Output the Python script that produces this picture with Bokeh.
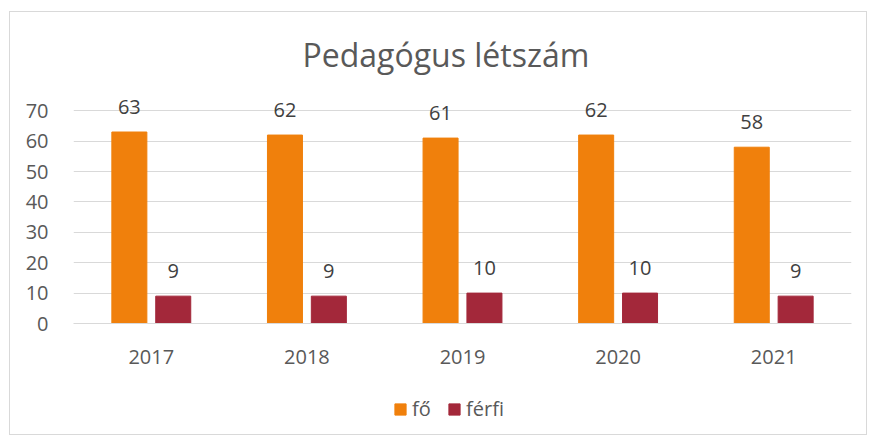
from bokeh.plotting import figure
from bokeh.models import (ColumnDataSource, FactorRange, Range1d, Legend, LegendItem,
                          LabelSet, Title)
from bokeh.layouts import column
from bokeh.core.properties import value
from bokeh.transform import dodge
from bokeh.embed import file_html
from bokeh.resources import INLINE

years = ["2017", "2018", "2019", "2020", "2021"]
fo = [63, 62, 61, 62, 58]
ferfi = [9, 9, 10, 10, 9]
series_names = ["fő", "férfi"]
y_ticks = [0, 10, 20, 30, 40, 50, 60, 70]

ORANGE = "#F0800C"
RED = "#A3283A"
FONT = "Open Sans"

src = ColumnDataSource(dict(year=years, fo=fo, ferfi=ferfi,
                            fo_lbl=[str(v) for v in fo],
                            ferfi_lbl=[str(v) for v in ferfi]))

p = figure(x_range=FactorRange(*years), y_range=Range1d(0, 76),
           width=856, height=358, output_backend="svg", toolbar_location=None,
           min_border_left=63, min_border_right=15, min_border_top=80,
           min_border_bottom=47)

t = Title(text="Pedagógus létszám", align="left", offset=229, text_font=FONT,
          text_font_size="32px", text_font_style="normal", text_color="#595959",
          standoff=33)
p.add_layout(t, "above")

r1 = p.vbar(x=dodge("year", -0.141, range=p.x_range), top="fo", width=0.225,
            source=src, fill_color=ORANGE, line_color=ORANGE)
r2 = p.vbar(x=dodge("year", 0.141, range=p.x_range), top="ferfi", width=0.225,
            source=src, fill_color=RED, line_color=RED)

for col, lbl, off in (("fo", "fo_lbl", -0.141), ("ferfi", "ferfi_lbl", 0.141)):
    ls = LabelSet(x=dodge("year", off, range=p.x_range), y=col, text=lbl, source=src,
                  text_align="center", text_baseline="alphabetic", y_offset=18,
                  text_font=value(FONT), text_font_size=value("20px"),
                  text_color="#404040")
    p.add_layout(ls)

p.xgrid.grid_line_color = None
p.ygrid.grid_line_color = "#d9d9d9"
p.ygrid.grid_line_width = 1
p.outline_line_color = None

p.yaxis.ticker = y_ticks
p.yaxis.axis_line_color = None
p.yaxis.major_tick_line_color = None
p.yaxis.minor_tick_line_color = None
p.yaxis.major_label_standoff = 19
p.yaxis.major_label_text_font = FONT
p.yaxis.major_label_text_font_size = "20px"
p.yaxis.major_label_text_color = "#595959"

p.xaxis.axis_line_color = "#d9d9d9"
p.xaxis.major_tick_line_color = None
p.xaxis.minor_tick_line_color = None
p.xaxis.major_label_standoff = 20
p.xaxis.major_label_text_font = FONT
p.xaxis.major_label_text_font_size = "20px"
p.xaxis.major_label_text_color = "#595959"

# legend strip below the chart (swatch renderers sit outside the visible range)
q = figure(width=856, height=64, x_range=Range1d(0, 1), y_range=Range1d(0, 1),
           output_backend="svg", toolbar_location=None,
           x_axis_type=None, y_axis_type=None,
           min_border_left=0, min_border_right=0, min_border_top=0, min_border_bottom=0)
q.outline_line_color = None
q.xgrid.grid_line_color = None
q.ygrid.grid_line_color = None
e1 = q.vbar(x=[-10], top=[-10], width=0.1, fill_color=ORANGE, line_color=ORANGE)
e2 = q.vbar(x=[-10], top=[-10], width=0.1, fill_color=RED, line_color=RED)
legend = Legend(items=[LegendItem(label=series_names[0], renderers=[e1]),
                       LegendItem(label=series_names[1], renderers=[e2])],
                orientation="horizontal", location=(320, 12),
                glyph_width=14, glyph_height=14, label_standoff=5, spacing=15,
                label_text_font=FONT, label_text_font_size="20px",
                label_text_color="#595959", border_line_color=None,
                background_fill_alpha=0, margin=0, padding=0)
q.add_layout(legend)

layout = column(p, q, spacing=0,
                styles={"margin-left": "9px", "margin-top": "11px",
                        "border": "1px solid #d9d9d9"})

open("out.html", "w").write(file_html(layout, INLINE))
